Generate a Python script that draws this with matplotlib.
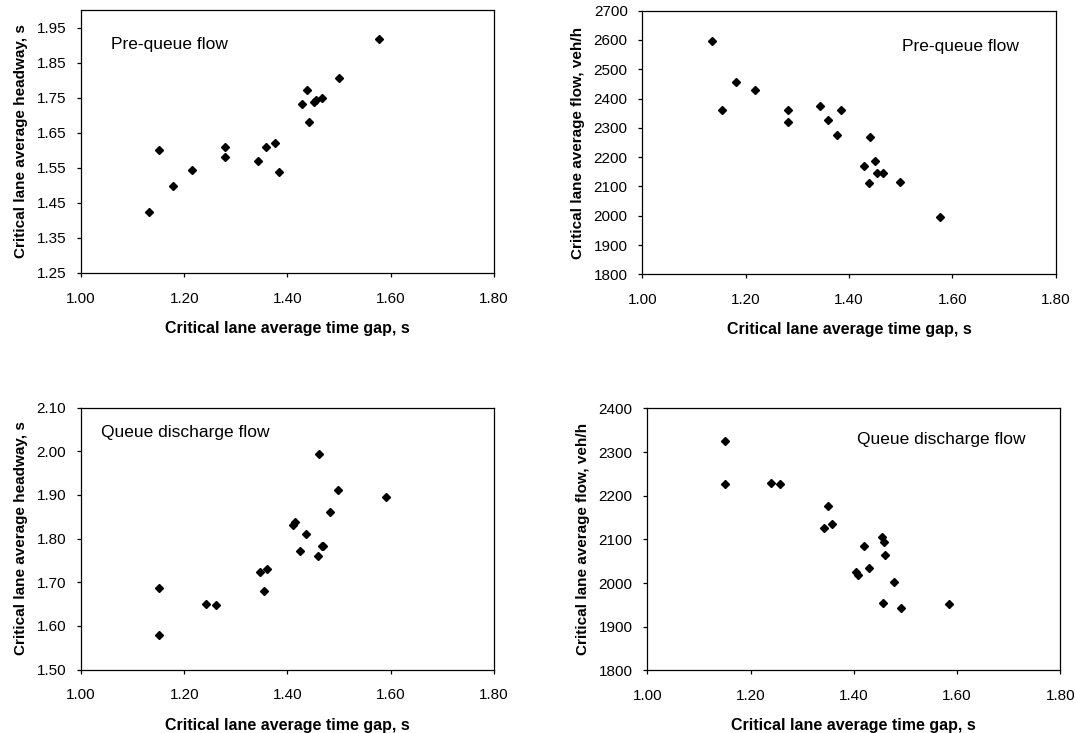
import matplotlib
matplotlib.use("Agg")
import matplotlib.pyplot as plt
from matplotlib.ticker import MultipleLocator, FormatStrFormatter

plt.rcParams['font.family'] = ['Liberation Sans', 'DejaVu Sans']

# pre-queue flow
pre_gap = [1.132, 1.152, 1.179, 1.216, 1.279, 1.279, 1.342, 1.359, 1.375,
           1.384, 1.429, 1.438, 1.441, 1.452, 1.456, 1.466, 1.499, 1.578]
pre_headway = [1.424, 1.600, 1.499, 1.544, 1.610, 1.580, 1.570, 1.609, 1.622,
               1.537, 1.733, 1.772, 1.680, 1.738, 1.744, 1.750, 1.807, 1.918]
pre_flow_gap = [1.135, 1.154, 1.181, 1.218, 1.282, 1.282, 1.343, 1.359, 1.376,
                1.385, 1.429, 1.438, 1.441, 1.451, 1.454, 1.465, 1.498, 1.577]
pre_flow = [2596, 2360, 2455, 2429, 2360, 2319, 2373, 2327, 2276,
            2362, 2171, 2111, 2268, 2186, 2145, 2145, 2115, 1997]

# queue discharge flow
qd_gap = [1.152, 1.152, 1.243, 1.262, 1.346, 1.361, 1.355, 1.410, 1.415,
          1.425, 1.435, 1.459, 1.462, 1.466, 1.468, 1.483, 1.497, 1.591]
qd_headway = [1.686, 1.579, 1.649, 1.647, 1.723, 1.730, 1.679, 1.832, 1.837,
              1.771, 1.810, 1.760, 1.994, 1.782, 1.784, 1.860, 1.912, 1.894]
qd_flow_gap = [1.150, 1.150, 1.240, 1.258, 1.350, 1.342, 1.357, 1.420, 1.454,
               1.459, 1.461, 1.404, 1.409, 1.430, 1.477, 1.457, 1.492, 1.584]
qd_flow = [2325, 2226, 2230, 2226, 2176, 2127, 2136, 2085, 2106,
           2095, 2064, 2025, 2019, 2034, 2002, 1955, 1943, 1951]

xlabel = "Critical lane average time gap, s"
hw_label = "Critical lane average headway, s"
fl_label = "Critical lane average flow, veh/h"

fig = plt.figure(figsize=(10.75, 7.33), dpi=100)

panels = [
    # rect, x, y, ylim, ystep, yfmt, ylabel, note, note position
    ([0.0753, 0.6276, 0.3842, 0.3588], pre_gap, pre_headway, (1.25, 2.0), 0.1,
     '%.2f', hw_label, "Pre-queue flow", (0.072, 0.867)),
    ([0.5975, 0.6258, 0.3845, 0.3596], pre_flow_gap, pre_flow, (1800, 2700), 100,
     '%d', fl_label, "Pre-queue flow", (0.629, 0.863)),
    ([0.0753, 0.0866, 0.3842, 0.3574], qd_gap, qd_headway, (1.5, 2.1), 0.1,
     '%.2f', hw_label, "Queue discharge flow", (0.048, 0.906)),
    ([0.6021, 0.0855, 0.3842, 0.3574], qd_flow_gap, qd_flow, (1800, 2400), 100,
     '%d', fl_label, "Queue discharge flow", (0.509, 0.882)),
]

for rect, xs, ys, ylim, ystep, yfmt, ylab, note, npos in panels:
    ax = fig.add_axes(rect)
    ax.plot(xs, ys, linestyle='none', marker='D', markersize=4.2,
            color='black')
    ax.set_xlim(1.0, 1.8)
    ax.set_ylim(*ylim)
    ax.xaxis.set_major_locator(MultipleLocator(0.2))
    ax.xaxis.set_major_formatter(FormatStrFormatter('%.2f'))
    if ylim[0] == 1.25:
        ax.set_yticks([1.25 + 0.1 * i for i in range(8)])
    else:
        ax.yaxis.set_major_locator(MultipleLocator(ystep))
    ax.yaxis.set_major_formatter(FormatStrFormatter(yfmt))
    ax.tick_params(direction='out', length=3, width=0.9, labelsize=11,
                   colors='black')
    ax.tick_params(axis='x', pad=10.5)
    ax.tick_params(axis='y', pad=7.5)
    for s in ax.spines.values():
        s.set_linewidth(0.9)
        s.set_color('black')
    ax.set_xlabel(xlabel, fontsize=11.5, fontweight='bold', labelpad=11)
    ax.set_ylabel(ylab, fontsize=11, fontweight='bold', labelpad=6)
    ax.text(npos[0], npos[1], note, transform=ax.transAxes, fontsize=12.5,
            va='center', ha='left')

fig.savefig("out.png", dpi=100)
